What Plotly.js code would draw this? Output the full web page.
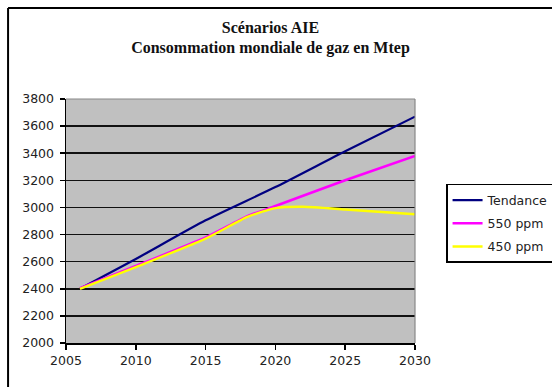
<!DOCTYPE html>
<html>
<head>
<meta charset="utf-8">
<script src="https://cdn.plot.ly/plotly-3.0.1.min.js"></script>
<style>html,body{margin:0;padding:0;background:#fff;}#chart{width:552px;height:387px;}</style>
</head>
<body>
<div id="chart"></div>
<script>
// Data (Mtep)
const titleLines = ["Scénarios AIE", "Consommation mondiale de gaz en Mtep"];
const seriesNames = ["Tendance", "550 ppm", "450 ppm"];

const yearsTendance = [2006, 2010, 2015, 2020, 2025, 2030];
const valuesTendance = [2400, 2620, 2905, 3150, 3415, 3670];

const years550 = [2006, 2010, 2015, 2018, 2020, 2025, 2030];
const values550 = [2405, 2568, 2778, 2935, 3010, 3200, 3380];

const years450 = [2006, 2010, 2015, 2018, 2020, 2022, 2025, 2030];
const values450 = [2400, 2560, 2770, 2930, 2995, 3005, 2985, 2950];

const xTicks = [2005, 2010, 2015, 2020, 2025, 2030];
const yTicks = [2000, 2200, 2400, 2600, 2800, 3000, 3200, 3400, 3600, 3800];

const tickFont = {family: "DejaVu Sans", size: 12.5, color: "#222"};

const traces = [
  {x: yearsTendance, y: valuesTendance, name: seriesNames[0], legendgroup: "a",
   mode: "lines", line: {color: "#000080", width: 2.2, shape: "spline", smoothing: 0.6}},
  {x: years550, y: values550, name: seriesNames[1], legendgroup: "b",
   mode: "lines", line: {color: "#ff00ff", width: 2.6, shape: "spline", smoothing: 0.6}},
  {x: years450, y: values450, name: seriesNames[2], legendgroup: "c",
   mode: "lines", line: {color: "#ffff00", width: 2.4, shape: "spline", smoothing: 0.6}}
];

const layout = {
  width: 552, height: 387,
  paper_bgcolor: "#ffffff", plot_bgcolor: "#c0c0c0",
  margin: {l: 66, r: 137, t: 99, b: 44, autoexpand: false},
  title: {text: titleLines.join("<br>"), font: {family: "Liberation Serif", size: 16, color: "#111", weight: "bold"},
          x: 0.49, xref: "container", xanchor: "center", y: 0.916, yref: "container", yanchor: "top"},
  showlegend: true,
  legend: {x: 1.089, y: 0.652, xanchor: "left", yanchor: "top", bgcolor: "#fff",
           bordercolor: "#000", borderwidth: 1.5, font: {family: "DejaVu Sans", size: 12.5, color: "#222"},
           tracegroupgap: 4, itemwidth: 30},
  xaxis: {range: [2005, 2030], tickvals: xTicks, ticktext: xTicks.map(String), showgrid: false,
          zeroline: false, showline: true, linecolor: "#000", linewidth: 1.5,
          ticks: "outside", ticklen: 5, tickwidth: 1.5, tickcolor: "#000", tickfont: tickFont, fixedrange: true},
  yaxis: {range: [2000, 3800], tickvals: yTicks, ticktext: yTicks.map(String), showgrid: true,
          gridcolor: "#111", gridwidth: 1.6, zeroline: false, showline: true, linecolor: "#000", linewidth: 1.5,
          ticks: "outside", ticklen: 5, tickwidth: 1.5, tickcolor: "#000", tickfont: tickFont,
          ticklabelstandoff: 3, fixedrange: true},
  shapes: [
    {type: "line", xref: "paper", yref: "paper", x0: 0, x1: 1, y0: 1, y1: 1, line: {color: "#888", width: 1.2}, layer: "above"},
    {type: "line", xref: "paper", yref: "paper", x0: 1, x1: 1, y0: 0, y1: 1, line: {color: "#888", width: 1.2}, layer: "above"},
    {type: "line", xref: "paper", yref: "paper", x0: -0.166, x1: 1.7, y0: 1.373, y1: 1.373, line: {color: "#000", width: 2}, layer: "above"},
    {type: "line", xref: "paper", yref: "paper", x0: -0.166, x1: -0.166, y0: -0.3, y1: 1.373, line: {color: "#000", width: 2}, layer: "above"}
  ]
};

Plotly.newPlot("chart", traces, layout, {displayModeBar: false, staticPlot: true});
</script>
</body>
</html>
